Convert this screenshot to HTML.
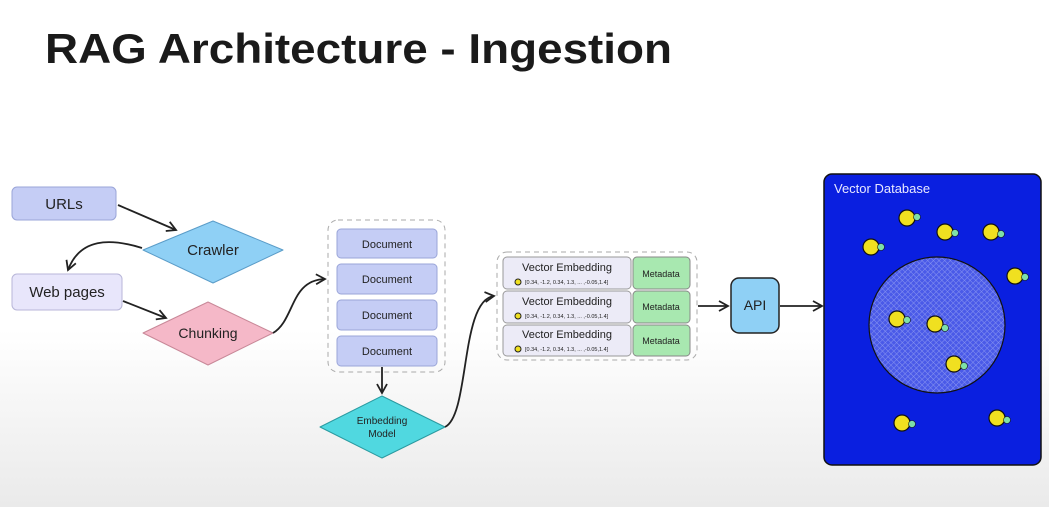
<!DOCTYPE html>
<html><head><meta charset="utf-8"><style>
html,body{margin:0;padding:0;}
body{width:1049px;height:507px;overflow:hidden;background:linear-gradient(#ffffff 0,#ffffff 330px,#eaeaea 507px);}
svg{display:block;}
.t{font-family:"Liberation Sans",sans-serif;fill:#1a1a1a;}
.h{font-family:"Comic Sans MS","Liberation Sans",sans-serif;fill:#222;}
</style></head><body>
<svg width="1049" height="507" viewBox="0 0 1049 507" xmlns="http://www.w3.org/2000/svg">
<defs>
<marker id="a" markerWidth="12" markerHeight="12" refX="10" refY="6" orient="auto" markerUnits="userSpaceOnUse">
<path d="M1,1 L10,6 L1,11" fill="none" stroke="#222" stroke-width="1.8"/></marker>
<pattern id="hatch" width="4" height="4" patternUnits="userSpaceOnUse" patternTransform="rotate(45)">
<rect width="4" height="4" fill="#4a5ae8"/><line x1="0" y1="0" x2="0" y2="4" stroke="#8894f0" stroke-width="1"/><line x1="0" y1="0" x2="4" y2="0" stroke="#8894f0" stroke-width="1"/></pattern>
</defs>
<text class="t" x="45" y="63" font-size="42" font-weight="bold" textLength="627" lengthAdjust="spacingAndGlyphs">RAG Architecture - Ingestion</text>

<!-- left nodes -->
<rect x="12" y="187" width="104" height="33" rx="5" fill="#c5cdf5" stroke="#9aa5d8"/>
<text class="h" x="64" y="209" font-size="15" text-anchor="middle">URLs</text>
<polygon points="143,250 213,221 283,250 213,283" fill="#8fd0f5" stroke="#5a9cc8" stroke-linejoin="round"/>
<text class="h" x="213" y="255" font-size="15" text-anchor="middle">Crawler</text>
<rect x="12" y="274" width="110" height="36" rx="5" fill="#e8e6fb" stroke="#b8b6d8"/>
<text class="h" x="67" y="297" font-size="15" text-anchor="middle">Web pages</text>
<polygon points="143,333 208,302 273,333 208,365" fill="#f5b8c8" stroke="#c88898" stroke-linejoin="round"/>
<text class="h" x="208" y="338" font-size="14" text-anchor="middle">Chunking</text>

<path d="M118,205 L176,230" stroke="#222" stroke-width="1.8" fill="none" marker-end="url(#a)"/>
<path d="M142,248 C110,238 80,238 68,270" stroke="#222" stroke-width="1.8" fill="none" marker-end="url(#a)"/>
<path d="M123,301 L166,318" stroke="#222" stroke-width="1.8" fill="none" marker-end="url(#a)"/>
<path d="M273,333 C295,320 290,280 325,279" stroke="#222" stroke-width="1.8" fill="none" marker-end="url(#a)"/>

<!-- documents -->
<rect x="328" y="220" width="117" height="152" rx="10" fill="none" stroke="#aaa" stroke-dasharray="5,4"/>
<g fill="#c5cdf5" stroke="#9aa5d8">
<rect x="337" y="229" width="100" height="29" rx="4"/><rect x="337" y="264" width="100" height="30" rx="4"/>
<rect x="337" y="300" width="100" height="30" rx="4"/><rect x="337" y="336" width="100" height="30" rx="4"/></g>
<g class="h" font-size="11" text-anchor="middle">
<text x="387" y="248">Document</text><text x="387" y="283">Document</text><text x="387" y="319">Document</text><text x="387" y="355">Document</text></g>
<path d="M382,367 L382,393" stroke="#222" stroke-width="1.8" marker-end="url(#a)"/>
<polygon points="320,427 382,396 445,427 382,458" fill="#50d8e0" stroke="#2a9aa0" stroke-linejoin="round"/>
<text class="h" x="382" y="424" font-size="10" text-anchor="middle">Embedding</text>
<text class="h" x="382" y="437" font-size="10" text-anchor="middle">Model</text>
<path d="M445,427 C470,415 460,300 494,296" stroke="#222" stroke-width="1.8" fill="none" marker-end="url(#a)"/>

<!-- vectors -->
<rect x="497" y="252" width="200" height="108" rx="10" fill="none" stroke="#aaa" stroke-dasharray="5,4"/>
<g>
<rect x="503" y="257" width="128" height="32" rx="4" fill="#ecebf7" stroke="#999"/><rect x="633" y="257" width="57" height="32" rx="4" fill="#a8e8b0" stroke="#888"/>
<rect x="503" y="291" width="128" height="32" rx="4" fill="#ecebf7" stroke="#999"/><rect x="633" y="291" width="57" height="32" rx="4" fill="#a8e8b0" stroke="#888"/>
<rect x="503" y="325" width="128" height="31" rx="4" fill="#ecebf7" stroke="#999"/><rect x="633" y="325" width="57" height="31" rx="4" fill="#a8e8b0" stroke="#888"/>
</g>
<g class="h" font-size="11" text-anchor="middle">
<text x="567" y="271">Vector Embedding</text><text x="567" y="305">Vector Embedding</text><text x="567" y="338">Vector Embedding</text>
<text x="661" y="277" font-size="9">Metadata</text><text x="661" y="310" font-size="9">Metadata</text><text x="661" y="344" font-size="9">Metadata</text></g>
<g fill="#f0e020" stroke="#222"><circle cx="518" cy="282" r="3"/><circle cx="518" cy="316" r="3"/><circle cx="518" cy="349" r="3"/></g>
<g class="h" font-size="5.5"><text x="525" y="284">[0.34, -1.2, 0.34, 1.3, ... ,-0.05,1.4]</text><text x="525" y="318">[0.34, -1.2, 0.34, 1.3, ... ,-0.05,1.4]</text><text x="525" y="351">[0.34, -1.2, 0.34, 1.3, ... ,-0.05,1.4]</text></g>

<path d="M698,306 L728,306" stroke="#222" stroke-width="1.8" marker-end="url(#a)"/>
<rect x="731" y="278" width="48" height="55" rx="8" fill="#8fd0f5" stroke="#222" stroke-width="1.5"/>
<text class="h" x="755" y="310" font-size="14" text-anchor="middle">API</text>
<path d="M780,306 L822,306" stroke="#222" stroke-width="1.8" marker-end="url(#a)"/>

<!-- DB -->
<rect x="824" y="174" width="217" height="291" rx="8" fill="#0a1fe0" stroke="#111" stroke-width="1.5"/>
<text class="h" x="834" y="193" font-size="13" style="fill:#e8e8ff">Vector Database</text>
<circle cx="937" cy="325" r="68" fill="url(#hatch)" stroke="#111" stroke-width="1.2"/>
<g stroke="#111" stroke-width="1.2">
<g fill="#f0e020"><circle cx="907" cy="218" r="8"/><circle cx="945" cy="232" r="8"/><circle cx="991" cy="232" r="8"/><circle cx="871" cy="247" r="8"/><circle cx="1015" cy="276" r="8"/><circle cx="897" cy="319" r="8"/><circle cx="935" cy="324" r="8"/><circle cx="954" cy="364" r="8"/><circle cx="902" cy="423" r="8"/><circle cx="997" cy="418" r="8"/></g>
<g fill="#7ee0a8" stroke-width="0.6"><circle cx="917" cy="217" r="3.5"/><circle cx="955" cy="233" r="3.5"/><circle cx="1001" cy="234" r="3.5"/><circle cx="881" cy="247" r="3.5"/><circle cx="1025" cy="277" r="3.5"/><circle cx="907" cy="320" r="3.5"/><circle cx="945" cy="328" r="3.5"/><circle cx="964" cy="366" r="3.5"/><circle cx="912" cy="424" r="3.5"/><circle cx="1007" cy="420" r="3.5"/></g>
</g>
</svg>
</body></html>
